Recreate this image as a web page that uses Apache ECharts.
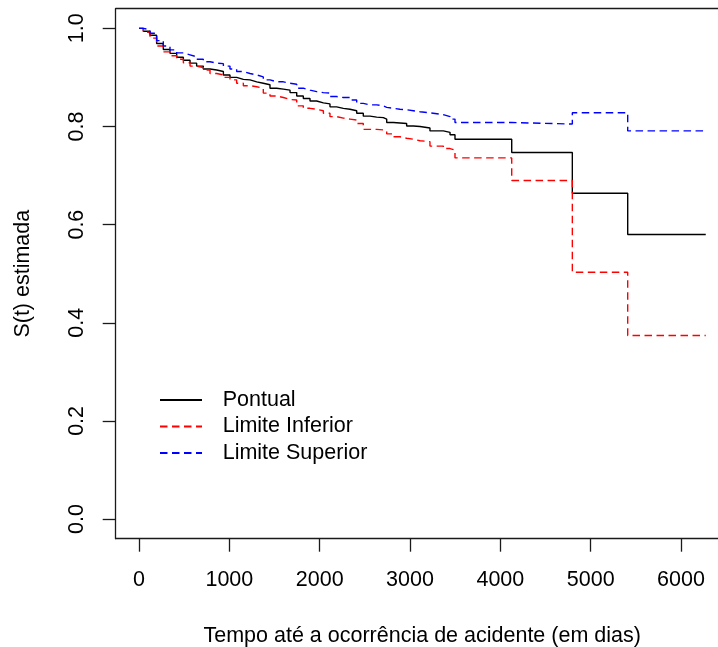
<!DOCTYPE html>
<html>
<head>
<meta charset="utf-8">
<script src="https://cdn.jsdelivr.net/npm/echarts@6/dist/echarts.min.js"></script>
<style>
  html, body { margin: 0; padding: 0; background: #fff; }
  #chart { width: 718px; height: 647px; }
</style>
</head>
<body>
<div id="chart"></div>
<script>
// Kaplan-Meier estimate of time until an accident, with its 95% confidence band.
// Event times (days) shared by the three step curves.
const eventTimes = [
  0, 48, 122, 195, 269, 343, 417, 491, 565, 638, 712, 786, 860, 934, 1007,
  1081, 1155, 1229, 1303, 1376, 1450, 1524, 1598, 1672, 1746, 1819, 1893,
  1967, 2041, 2114, 2188, 2262, 2336, 2410, 2483, 2557, 2631, 2705, 2742,
  2816, 2889, 2963, 3037, 3111, 3221, 3369, 3443, 3498, 4126, 4797, 5410, 6274
];

// Point estimate S(t)
const sPontual = [
  1.000, 0.994, 0.986, 0.969, 0.957, 0.949, 0.941, 0.935, 0.929, 0.923, 0.917,
  0.915, 0.912, 0.905, 0.900, 0.896, 0.895, 0.891, 0.888, 0.885, 0.878, 0.876,
  0.874, 0.869, 0.862, 0.857, 0.852, 0.848, 0.846, 0.840, 0.837, 0.835, 0.832,
  0.827, 0.821, 0.819, 0.818, 0.815, 0.808, 0.807, 0.806, 0.801, 0.800, 0.797,
  0.791, 0.788, 0.783, 0.774, 0.747, 0.664, 0.580, 0.580
];

// Lower confidence limit
const sInferior = [
  1.000, 0.992, 0.980, 0.964, 0.952, 0.944, 0.937, 0.930, 0.923, 0.920, 0.915,
  0.908, 0.905, 0.900, 0.895, 0.888, 0.883, 0.881, 0.878, 0.868, 0.862, 0.859,
  0.855, 0.854, 0.842, 0.837, 0.835, 0.832, 0.827, 0.820, 0.817, 0.815, 0.813,
  0.806, 0.794, 0.794, 0.793, 0.791, 0.785, 0.779, 0.776, 0.774, 0.771, 0.769,
  0.760, 0.755, 0.752, 0.736, 0.690, 0.503, 0.374, 0.374
];

// Upper confidence limit
const sSuperior = [
  1.000, 0.997, 0.990, 0.975, 0.964, 0.956, 0.950, 0.946, 0.942, 0.937, 0.932,
  0.929, 0.928, 0.923, 0.917, 0.912, 0.908, 0.905, 0.901, 0.895, 0.891, 0.891,
  0.888, 0.886, 0.878, 0.874, 0.871, 0.869, 0.868, 0.861, 0.859, 0.859, 0.854,
  0.847, 0.844, 0.844, 0.842, 0.839, 0.837, 0.835, 0.834, 0.832, 0.830, 0.828,
  0.824, 0.820, 0.815, 0.808, 0.805, 0.828, 0.791, 0.791
];

const xTicks = [0, 1000, 2000, 3000, 4000, 5000, 6000];
const yTicks = [0, 0.2, 0.4, 0.6, 0.8, 1.0];

const seriesNames = ['Pontual', 'Limite Inferior', 'Limite Superior'];

const FONT = "'Liberation Sans', Arial, sans-serif";
const X_MIN = -258, X_MAX = 6528;
const Y_MIN = -0.04, Y_MAX = 1.04;
const FRAME = { color: '#1a1a1a', width: 1.3 };

function pairs(values) {
  return eventTimes.map((t, i) => [t, values[i]]);
}

function stepSeries(name, values, color, dashed) {
  return {
    name: name,
    type: 'line',
    step: 'end',
    symbol: 'none',
    animation: false,
    data: pairs(values),
    lineStyle: { color: color, width: 1.4, type: dashed ? [7.5, 4.5] : 'solid' },
    itemStyle: { color: color }
  };
}

const chart = echarts.init(document.getElementById('chart'), null, { renderer: 'canvas' });

chart.setOption({
  backgroundColor: '#ffffff',
  animation: false,
  textStyle: { fontFamily: FONT },
  grid: {
    left: 115.7,
    top: 8.7,
    width: 613,
    height: 530,
    outerBoundsMode: 'none',
    containLabel: false,
    show: false
  },
  legend: {
    orient: 'vertical',
    left: 159,
    top: 389,
    padding: 0,
    itemWidth: 42,
    itemHeight: 14,
    itemGap: 4.5,
    data: seriesNames,
    selectedMode: false,
    itemStyle: { opacity: 0 },
    textStyle: {
      fontFamily: FONT,
      fontSize: 21.5,
      color: '#000',
      lineHeight: 22,
      padding: [0, 0, 0, 15.7]
    }
  },
  xAxis: [
    {
      type: 'value',
      position: 'bottom',
      min: X_MIN,
      max: X_MAX,
      name: 'Tempo até a ocorrência de acidente (em dias)',
      nameLocation: 'middle',
      nameGap: 86,
      nameTextStyle: { fontFamily: FONT, fontSize: 21.5, color: '#000' },
      axisLine: { show: true, onZero: false, lineStyle: FRAME },
      splitLine: { show: false },
      axisTick: {
        show: true,
        inside: false,
        length: 13,
        customValues: xTicks,
        lineStyle: FRAME
      },
      axisLabel: {
        customValues: xTicks,
        margin: 30,
        fontFamily: FONT,
        fontSize: 21.5,
        color: '#000',
        formatter: (v) => String(v)
      }
    },
    {
      // top edge of the plot frame
      type: 'value',
      position: 'top',
      min: X_MIN,
      max: X_MAX,
      axisLine: { show: true, onZero: false, lineStyle: FRAME },
      axisTick: { show: false },
      axisLabel: { show: false },
      splitLine: { show: false }
    }
  ],
  yAxis: {
    type: 'value',
    position: 'left',
    min: Y_MIN,
    max: Y_MAX,
    name: 'S(t) estimada',
    nameLocation: 'middle',
    nameGap: 82,
    nameRotate: 90,
    nameTextStyle: { fontFamily: FONT, fontSize: 21.5, color: '#000' },
    axisLine: { show: true, onZero: false, lineStyle: FRAME },
    splitLine: { show: false },
    axisTick: {
      show: true,
      inside: false,
      length: 13,
      customValues: yTicks,
      lineStyle: FRAME
    },
    axisLabel: {
      customValues: yTicks,
      rotate: 90,
      margin: 28,
      fontFamily: FONT,
      fontSize: 21.5,
      color: '#000',
      formatter: (v) => v.toFixed(1)
    }
  },
  series: [
    stepSeries(seriesNames[0], sPontual, '#000000', false),
    stepSeries(seriesNames[1], sInferior, '#ff0000', true),
    stepSeries(seriesNames[2], sSuperior, '#0000ff', true)
  ]
});
</script>
</body>
</html>
